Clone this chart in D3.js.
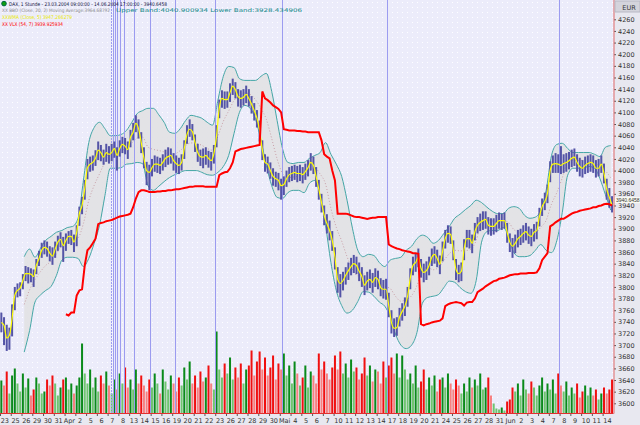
<!DOCTYPE html>
<html>
<head>
<meta charset="utf-8">
<script src="https://cdn.jsdelivr.net/npm/d3@7"></script>
<style>
  body { margin: 0; background: #ffffff; }
  svg { display: block; }
  text { font-family: "DejaVu Sans", sans-serif; }
  .small { font-family: "Liberation Sans Narrow", "Liberation Sans", sans-serif; }
</style>
</head>
<body>
<div id="chart"></div>
<script>
var svgWidth = 640;
var svgHeight = 425;

// trading days shown on the time axis
var dayLabels = ["23","25","26","29","30","31","Apr","2","5","6","7","8","13","14","15","16","19","20","21","22","23",
  "26","27","28","29","30","Mai","4","5","6","7","10","11","12","13","14","17","18","19","20","21","24","25","26","27",
  "28","31","Jun","2","3","4","7","8","9","10","11","14"];

// price samples, four per trading day
var closes = [3739,3734,3712,3717, 3746,3786,3794,3798, 3811,3823,3823,3822, 3818,3837,3849,3863, 3868,3866,3858,3853,
  3865,3877,3882,3871, 3880,3887,3887,3877, 3894,3926,3940,3969, 4005,4011,4014,4021, 4035,4031,4023,4031,
  4028,4031,4038,4026, 4038,4045,4042,4036, 4057,4066,4081,4072, 4048,4021,4000,3997, 4005,4011,4011,4009,
  4014,4021,4024,4026, 4017,4012,4009,4014, 4038,4062,4071,4067, 4048,4031,4024,4023, 4026,4021,4017,4029,
  4060,4107,4124,4122, 4122,4134,4145,4139, 4127,4124,4126,4131, 4124,4114,4103,4090, 4069,4036,4014,4011,
  4000,3990,3986,3983, 3974,3976,3986,3993, 3995,3997,3995,3995, 3993,3998,4005,4014, 4009,3990,3968,3945,
  3923,3909,3897,3880, 3851,3813,3806,3811, 3820,3828,3835,3840, 3837,3827,3818,3803, 3810,3813,3808,3816,
  3813,3799,3796,3796, 3768,3739,3729,3730, 3748,3758,3767,3784, 3815,3837,3842,3851, 3832,3825,3828,3837,
  3851,3856,3849,3839, 3861,3883,3892,3890, 3863,3830,3823,3827, 3865,3883,3883,3875, 3895,3906,3911,3914,
  3916,3906,3904,3904, 3909,3914,3914,3914, 3894,3877,3870,3875, 3883,3887,3892,3895, 3889,3887,3894,3897,
  3921,3938,3947,3961, 4000,4011,4012,4011, 4009,4012,4014,4017, 4021,4023,4014,4007, 4004,4009,4012,4014,
  4012,4004,4004,4011, 3995,3968,3954,3941];

var highs = [3756,3748,3735,3730, 3770,3800,3806,3808, 3822,3836,3834,3832, 3830,3848,3862,3876, 3880,3878,3870,3868,
  3878,3888,3894,3886, 3892,3896,3898,3890, 3906,3938,3955,3984, 4020,4024,4026,4035, 4050,4044,4036,4046,
  4042,4046,4050,4040, 4052,4058,4056,4050, 4070,4082,4095,4088, 4066,4040,4015,4010, 4020,4026,4024,4022,
  4028,4036,4040,4038, 4030,4026,4022,4028, 4052,4078,4088,4080, 4062,4046,4036,4038, 4040,4034,4032,4044,
  4078,4122,4138,4136, 4136,4150,4158,4152, 4140,4138,4140,4146, 4140,4128,4116,4104, 4086,4052,4028,4024,
  4014,4004,3998,3996, 3986,3990,4000,4006, 4008,4010,4008,4010, 4006,4012,4018,4030, 4024,4006,3984,3960,
  3940,3925,3914,3896, 3868,3834,3822,3826, 3834,3842,3850,3855, 3852,3842,3834,3820, 3826,3830,3824,3832,
  3828,3815,3812,3814, 3790,3760,3746,3748, 3764,3772,3782,3800, 3832,3852,3858,3866, 3848,3840,3844,3852,
  3866,3870,3864,3854, 3878,3898,3906,3904, 3880,3848,3838,3842, 3882,3898,3898,3890, 3910,3920,3926,3930,
  3930,3920,3918,3918, 3924,3928,3926,3928, 3910,3892,3884,3890, 3898,3900,3906,3910, 3904,3900,3908,3912,
  3936,3952,3962,3976, 4016,4026,4030,4028, 4042,4028,4030,4032, 4036,4038,4028,4022, 4018,4024,4026,4028,
  4026,4018,4020,4026, 4012,3986,3970,3956];

var lows = [3722,3700,3690,3692, 3715,3760,3782,3784, 3796,3810,3806,3808, 3800,3822,3836,3850, 3856,3852,3844,3838,
  3850,3862,3868,3843, 3862,3874,3872,3860, 3870,3905,3925,3950, 3985,3998,4000,4008, 4018,4016,4010,4015,
  4012,4016,4022,4000, 4024,4030,4028,4020, 4040,4052,4066,4055, 4030,4004,3975,3966, 3990,3998,3996,3994,
  4000,4006,4010,4012, 4000,3996,3994,4000, 4020,4046,4058,4052, 4032,4015,4008,4004, 4010,4005,4000,4012,
  4040,4090,4108,4106, 4108,4118,4130,4124, 4110,4108,4112,4116, 4110,4098,4086,4074, 4050,4018,3998,3995,
  3986,3974,3972,3966, 3950,3958,3972,3980, 3982,3984,3980,3982, 3978,3984,3990,4000, 3994,3972,3950,3928,
  3906,3892,3880,3862, 3830,3790,3782,3794, 3804,3812,3820,3824, 3822,3810,3800,3786, 3794,3798,3790,3800,
  3796,3784,3780,3778, 3748,3720,3714,3716, 3732,3742,3750,3766, 3796,3820,3826,3834, 3816,3808,3812,3820,
  3836,3840,3834,3822, 3844,3866,3876,3874, 3846,3812,3808,3810, 3846,3868,3866,3858, 3880,3892,3896,3898,
  3900,3890,3888,3890, 3894,3900,3898,3900, 3876,3860,3850,3858, 3868,3872,3876,3880, 3874,3870,3878,3882,
  3904,3922,3932,3944, 3980,3996,3996,3996, 3994,3996,3998,4002, 4006,4008,3998,3990, 3988,3994,3996,3998,
  3996,3988,3990,3996, 3978,3950,3936,3928];

var volumes = [33,28,42,20, 38,45,30,22, 40,26,35,18, 24,36,30,20, 22,34,28,38, 30,18,26,34, 36,24,30,20,
  28,36,70,40, 30,44,26,36, 22,38,30,42, 28,20,34,24, 40,30,46,26, 34,24,44,30, 38,28,22,34, 26,40,30,20,
  44,32,24,38, 30,22,36,28, 46,34,52,30, 38,26,42,32, 36,48,30,24, 82,44,36,50, 40,56,34,46, 36,50,30,44,
  48,63,38,52, 62,44,56,38, 46,58,34,50, 44,60,38,48, 30,52,40,28, 36,48,26,42, 38,30,60,44, 52,40,34,46,
  58,44,62,40, 50,36,54,42, 46,34,40,56, 38,48,32,44, 42,30,52,36, 48,56,40,60, 36,58,44,34, 40,30,48,26,
  32,44,24,36, 28,38,22,34, 36,26,40,30, 24,34,28,20, 30,22,36,26, 34,28,40,24, 26,36,18,10, 5,4,6,3,
  12,14,26,22, 30,18,34,24, 20,32,26,18, 28,36,22,30, 24,34,20,40, 28,22,32,18, 26,20,30,16, 22,28,18,26,
  18,24,14,20, 26,20,24,34];

// Bollinger bands (20, 2), two readings per trading day
var bandUpper = [null,null,null,null, 3852,3865,3851,3866,3880,3887,3894,3897,3902,3904,
  3918,3983,4048,4074,4083,4072,4060,4060,4062,4069, 4083,4098,4103,4107,4107,4096,4083,4066,4064,4072,
  4086,4095,4093,4090,4083,4078,4121,4162,4179,4177, 4158,4155,4155,4155,4162,4167,4136,4086,4038,4014,
  4012,4014,4014,4021,4026,4031,4048,4028,4011,3990, 3949,3901,3863,3852,3856,3854,3842,3835,3846,3849,
  3851,3863,3870,3883,3889,3885,3875,3880,3892,3904, 3918,3925,3933,3940,3949,3945,3937,3930,3926,3926,
  3935,3938,3935,3923,3918,3920,3932,3966,4026,4045, 4047,4038,4031,4031,4031,4031,4028,4024,4040,4043];
var bandLower = [null,null,null,null, 3688,3725,3774,3786,3794,3801,3820,3846,3851,3851,
  3849,3835,3849,3875,3906,3957,4004,4004,4005,4011, 4012,4014,4012,3974,3966,3973,3981,3988,3993,3997,
  4000,4000,4000,3997,3993,3992,3997,4007,4026,4064, 4100,4112,4107,4088,4052,4009,3974,3954,3952,3962,
  3966,3966,3962,3978,3983,3957,3906,3842,3794,3768, 3755,3760,3775,3792,3791,3784,3774,3767,3749,3719,
  3700,3694,3700,3722,3772,3782,3784,3787,3799,3810, 3808,3799,3792,3789,3811,3877,3895,3897,3897,3902,
  3887,3859,3852,3852,3854,3863,3873,3863,3859,3880, 3928,3992,4004,4004,4005,4007,4004,3986,3959,3932];

// VLX (54, 7), four readings per trading day
var vlx = [null,null,null,null, null,null,null,null, null,null,null,null, null,null,null,null, null,null,null,null,
  null,null,null,null, 3753,3751,3756,3756, 3785,3794,3796,3837, 3863,3868,3875,3883, 3908,3910,3911,3913,
  3914,3915,3917,3919, 3921,3922,3923,3924, 3926,3937,3952,3963, 3966,3966,3965,3963, 3963,3963,3964,3964,
  3965,3965,3966,3966, 3967,3968,3968,3969, 3970,3971,3972,3972, 3973,3973,3973,3973, 3972,3972,3972,3972,
  3972,3992,3995,3997, 3998,4004,4014,4033, 4035,4037,4038,4039, 4040,4041,4042,4043, 4044,4136,4124,4121,
  4117,4112,4109,4106, 4100,4071,4070,4069, 4069,4069,4068,4068, 4067,4067,4066,4066, 4066,4066,4066,4052,
  4028,4024,4021,4000, 3983,3926,3926,3926, 3926,3925,3923,3921, 3920,3920,3919,3918, 3917,3918,3919,3919,
  3920,3920,3920,3920, 3873,3870,3868,3866, 3865,3863,3862,3861, 3860,3858,3858,3857, 3736,3734,3736,3737,
  3739,3740,3741,3742, 3746,3767,3770,3772, 3773,3774,3773,3772, 3768,3773,3774,3774, 3780,3791,3794,3797,
  3801,3804,3807,3810, 3811,3814,3815,3816, 3818,3820,3821,3822, 3822,3823,3823,3823, 3824,3824,3824,3825,
  3832,3846,3852,3858, 3904,3907,3911,3914, 3917,3917,3920,3923, 3926,3928,3929,3931, 3932,3933,3934,3935,
  3937,3937,3939,3940, 3942,3943,3942,3940];

// event markers, in trading days from the first bar
var markers = [10.32, 10.5, 10.69, 10.87, 11.15, 11.52, 12.45, 13.94, 16.26, 19.98, 26.2, 35.97, 51.95];

var priceTicks = d3.range(3600, 4261, 20);
var lastPrice = 3940.6458;

var plotW = 613.5, plotH = 413.5;

var svg = d3.select("#chart").append("svg")
  .attr("width", svgWidth)
  .attr("height", svgHeight);

var defs = svg.append("defs");
var pat = defs.append("pattern").attr("id", "dots")
  .attr("width", 5).attr("height", 5).attr("patternUnits", "userSpaceOnUse");
pat.append("rect").attr("width", 5).attr("height", 5).attr("fill", "#ececfa");
pat.append("rect").attr("x", 2).attr("y", 2).attr("width", 1).attr("height", 1).attr("fill", "#ffffff");
defs.append("clipPath").attr("id", "plotclip")
  .append("rect").attr("width", plotW).attr("height", plotH);

// axis backgrounds
svg.append("rect").attr("width", svgWidth).attr("height", svgHeight).attr("fill", "#e8e8f0");
svg.append("rect").attr("width", plotW).attr("height", plotH).attr("fill", "url(#dots)");

var x = d3.scaleLinear().domain([0, dayLabels.length]).range([0, 613.4]);
var y = d3.scaleLinear().domain([3600, 4260]).range([403.3, 19.3]);
var yVol = d3.scaleLinear().domain([0, 100]).range([plotH, plotH - 100]);
var t4 = function(i) { return (i + 0.5) / 4; };
var t2 = function(k) { return (k + 0.5) / 2; };

var plot = svg.append("g").attr("clip-path", "url(#plotclip)");

// volume
plot.append("g").selectAll("rect")
  .data(volumes)
  .join("rect")
  .attr("x", (d, i) => x(t4(i)) - 1)
  .attr("width", 2)
  .attr("y", d => yVol(d))
  .attr("height", d => plotH - yVol(d))
  .attr("fill", function(d, i) {
    var up = i === 0 || closes[i] >= closes[i - 1];
    var more = i === 0 || d >= volumes[i - 1];
    if (up) return more ? "#0a8a1a" : "#6fc46f";
    return more ? "#f01010" : "#f78080";
  });

// Bollinger band
var kIdx = d3.range(bandUpper.length).filter(k => bandUpper[k] != null);
plot.append("path")
  .datum(kIdx)
  .attr("fill", "#e3e3e6")
  .attr("d", d3.area().x(k => x(t2(k))).y0(k => y(bandLower[k])).y1(k => y(bandUpper[k])).curve(d3.curveMonotoneX));
plot.append("path")
  .datum(kIdx)
  .attr("fill", "none").attr("stroke", "#c9a0a8").attr("stroke-width", 1).attr("stroke-dasharray", "1,2")
  .attr("d", d3.line().x(k => x(t2(k))).y(k => y((bandUpper[k] + bandLower[k]) / 2)).curve(d3.curveMonotoneX));
[bandUpper, bandLower].forEach(function(b) {
  plot.append("path")
    .datum(kIdx)
    .attr("fill", "none").attr("stroke", "#44a6a6").attr("stroke-width", 1)
    .attr("d", d3.line().x(k => x(t2(k))).y(k => y(b[k])).curve(d3.curveMonotoneX));
});

// event markers
plot.append("g").selectAll("line")
  .data(markers)
  .join("line")
  .attr("x1", d => Math.round(x(d)) + 0.5).attr("x2", d => Math.round(x(d)) + 0.5)
  .attr("y1", 0).attr("y2", plotH)
  .attr("stroke", "#9c9cf0").attr("stroke-width", 1)
  .attr("stroke-dasharray", (d, i) => i === 0 ? "2,1" : null);

// high-low bars
plot.append("g").selectAll("rect")
  .data(closes)
  .join("rect")
  .attr("x", (d, i) => x(t4(i)) - 1)
  .attr("width", 2)
  .attr("y", (d, i) => y(highs[i]))
  .attr("height", (d, i) => y(lows[i]) - y(highs[i]))
  .attr("fill", "#5454a6");

// WMA(5) of close
plot.append("path")
  .datum(closes)
  .attr("fill", "none").attr("stroke", "#ffff00").attr("stroke-width", 1.2)
  .attr("d", d3.line().x((d, i) => x(t4(i))).y(d => y(d)).curve(d3.curveMonotoneX));

// VLX
plot.append("path")
  .datum(vlx)
  .attr("fill", "none").attr("stroke", "#ff0000").attr("stroke-width", 2)
  .attr("d", d3.line().defined(d => d != null).x((d, i) => x(t4(i))).y(d => y(d)));

// right price axis
var yAxis = d3.axisRight(y).tickValues(priceTicks).tickSize(2).tickPadding(2).tickFormat(d3.format("d"));
var ya = svg.append("g").attr("transform", "translate(614,0)").call(yAxis);
ya.select(".domain").remove();
ya.selectAll("line").attr("stroke", "#555");
ya.selectAll("text").attr("font-size", "6.5px").attr("fill", "#333");
svg.append("line").attr("x1", 614).attr("x2", 614).attr("y1", 0).attr("y2", plotH)
  .attr("stroke", "#e06a6a").attr("stroke-width", 1);

// EUR header and last price tag
svg.append("rect").attr("x", 615).attr("y", 1).attr("width", 25).attr("height", 11)
  .attr("fill", "#d4d4dc").attr("stroke", "#b8b8c4");
svg.append("text").attr("x", 629).attr("y", 9.5).attr("text-anchor", "middle")
  .attr("font-size", "6.5px").attr("fill", "#333").text("EUR");
var tagY = y(lastPrice) - 4.5;
svg.append("rect").attr("x", 615).attr("y", tagY - 3.5).attr("width", 25).attr("height", 6)
  .attr("fill", "#fafaf0");
svg.append("text").attr("class", "small").attr("x", 616).attr("y", tagY + 1.8).attr("font-size", "5px")
  .attr("fill", "#333").text(lastPrice.toFixed(4));

// bottom time axis
svg.append("line").attr("x1", 0).attr("x2", plotW).attr("y1", plotH).attr("y2", plotH)
  .attr("stroke", "#e03030").attr("stroke-width", 1);
var xAxis = d3.axisBottom(x).tickValues(d3.range(dayLabels.length)).tickSize(2).tickFormat(d => dayLabels[d]);
var xa = svg.append("g").attr("transform", "translate(0," + (plotH + 0.5) + ")").call(xAxis);
xa.select(".domain").remove();
xa.selectAll("line").attr("stroke", "#555");
xa.selectAll("text").attr("font-size", "6.5px").attr("fill", "#333").attr("dx", "4.3").attr("y", 4);

// legend lines
var legend = svg.append("g").attr("class", "small");
legend.append("circle").attr("cx", 4).attr("cy", 3.6).attr("r", 2.3).attr("fill", "#10a010").attr("stroke", "#064");
legend.append("text").attr("x", 9).attr("y", 5.6).attr("font-size", "5.2px").attr("fill", "#101040")
  .attr("textLength", 158).attr("lengthAdjust", "spacingAndGlyphs")
  .text("DAX, 1 Stunde - 23.03.2004 09:00:00 - 14.06.2004 17:00:00 - 3940.6458");
legend.append("text").attr("x", 2).attr("y", 12.4).attr("font-size", "4.6px").attr("fill", "#8a8a8a")
  .attr("textLength", 108).attr("lengthAdjust", "spacingAndGlyphs")
  .text("XX BBO (Close, 20, 2) Moving Average:3964.68792");
legend.append("text").attr("x", 116).attr("y", 12.4).attr("font-size", "5.2px").attr("fill", "#108888")
  .attr("textLength", 186).attr("lengthAdjust", "spacingAndGlyphs")
  .text("Upper Band:4040.900934 Lower Band:3928.434906");
legend.append("text").attr("x", 2).attr("y", 19).attr("font-size", "5.2px").attr("fill", "#e8e800")
  .attr("textLength", 70).attr("lengthAdjust", "spacingAndGlyphs")
  .text("XXWMA (Close, 5) 3947.266279");
legend.append("text").attr("x", 2).attr("y", 25.6).attr("font-size", "5.2px").attr("fill", "#ff0000")
  .attr("textLength", 61).attr("lengthAdjust", "spacingAndGlyphs")
  .text("XX VLX (54, 7) 3939.925934");
</script>
</body>
</html>
